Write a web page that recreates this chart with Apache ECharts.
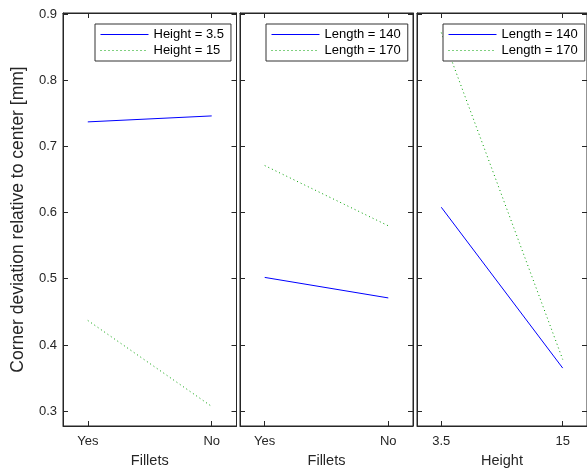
<!DOCTYPE html>
<html>
<head>
<meta charset="utf-8">
<script src="https://cdn.jsdelivr.net/npm/echarts@6/dist/echarts.min.js"></script>
<style>
html,body{margin:0;padding:0;background:#fff;}
#c{width:587px;height:473px;}
</style>
</head>
<body>
<div id="c"></div>
<script>
const filletsCats = ['Yes', 'No'];
const heightCats = ['3.5', '15'];
const yTicks = [0.3, 0.4, 0.5, 0.6, 0.7, 0.8, 0.9];
const yTitle = 'Corner deviation relative to center [mm]';
const xTitles = ['Fillets', 'Fillets', 'Height'];

const p1Names = ['Height = 3.5', 'Height = 15'];
const p1Height35 = [0.737, 0.746];
const p1Height15 = [0.437, 0.307];

const p23Names = ['Length = 140', 'Length = 170'];
const p2Length140 = [0.502, 0.471];
const p2Length170 = [0.671, 0.580];

const p3Length140 = [0.608, 0.365];
const p3Length170 = [0.872, 0.378];

const TXT = '#262626';
const FONT = 'Arial, "Liberation Sans", sans-serif';
const BLUE = '#0000ff';
const GREEN = '#00a000';

const grids = [
  {left: 63, top: 13, width: 173.5, height: 416},
  {left: 240, top: 13, width: 173, height: 416},
  {left: 417, top: 13, width: 173, height: 416}
];
const catsPerPanel = [filletsCats, filletsCats, heightCats];

const xAxes = [], yAxes = [];
grids.forEach((g, i) => {
  const cats = catsPerPanel[i];
  const xBase = {
    type: 'value', gridIndex: i, min: 0.8, max: 2.2,
    axisLine: {show: true, lineStyle: {color: TXT, width: 1}},
    axisTick: {show: true, inside: true, length: 5, lineStyle: {color: TXT}, customValues: [1, 2]},
    splitLine: {show: false}
  };
  xAxes.push(Object.assign({}, xBase, {
    position: 'bottom',
    name: xTitles[i], nameLocation: 'middle', nameGap: 27,
    nameTextStyle: {color: TXT, fontSize: 14.5, fontFamily: FONT},
    axisLabel: {show: true, customValues: [1, 2], margin: 9, color: TXT, fontSize: 13, fontFamily: FONT,
      formatter: v => cats[Math.round(v) - 1]}
  }));
  xAxes.push(Object.assign({}, xBase, {position: 'top', axisLabel: {show: false}}));
  const yBase = {
    type: 'value', gridIndex: i, min: 0.2775, max: 0.9015,
    axisLine: {show: true, lineStyle: {color: TXT, width: 1}},
    axisTick: {show: true, inside: true, length: 5, lineStyle: {color: TXT}, customValues: yTicks},
    splitLine: {show: false}
  };
  const left = Object.assign({}, yBase, {position: 'left',
    axisLabel: {show: i === 0, customValues: yTicks, margin: 6, color: TXT, fontSize: 13, fontFamily: FONT,
      formatter: v => v.toFixed(1)}});
  if (i === 0) {
    left.name = yTitle;
    left.nameLocation = 'middle';
    left.nameGap = 36;
    left.nameTextStyle = {color: TXT, fontSize: 17.5, fontFamily: FONT};
  }
  yAxes.push(left);
  yAxes.push(Object.assign({}, yBase, {position: 'right', axisLabel: {show: false}}));
});

function pts(vals) { return vals.map((v, k) => [k + 1, v]); }
function mk(name, vals, panel, dotted) {
  return {
    type: 'line', name: name, xAxisIndex: panel * 2, yAxisIndex: panel * 2,
    data: pts(vals), symbol: 'none', showSymbol: false, silent: true, animation: false,
    lineStyle: {color: dotted ? GREEN : BLUE, width: 1, type: dotted ? [1, 3] : 'solid'},
    itemStyle: {color: dotted ? GREEN : BLUE}
  };
}
const series = [
  mk(p1Names[0], p1Height35, 0, false),
  mk(p1Names[1], p1Height15, 0, true),
  mk(p23Names[0], p2Length140, 1, false),
  mk(p23Names[1], p2Length170, 1, true),
  mk(p23Names[0], p3Length140, 2, false),
  mk(p23Names[1], p3Length170, 2, true)
];

function legend(names, left) {
  return {
    show: true, data: names, orient: 'vertical', left: left, top: 24,
    backgroundColor: '#fff', borderColor: '#333', borderWidth: 1,
    padding: [4, 7, 4, 5], itemWidth: 48, itemHeight: 14, itemGap: 3,
    selectedMode: false,
    itemStyle: {opacity: 0},
    lineStyle: {width: 1},
    textStyle: {color: '#000', fontSize: 13, fontFamily: FONT}
  };
}

const chart = echarts.init(document.getElementById('c'), null, {renderer: 'canvas'});
chart.setOption({
  animation: false,
  backgroundColor: '#fff',
  grid: grids.map(g => Object.assign({show: true, borderColor: TXT, borderWidth: 1, backgroundColor: 'transparent'}, g)),
  xAxis: xAxes,
  yAxis: yAxes,
  legend: [legend(p1Names, 95), legend(p23Names, 266), legend(p23Names, 443)],
  series: series
});
</script>
</body>
</html>
